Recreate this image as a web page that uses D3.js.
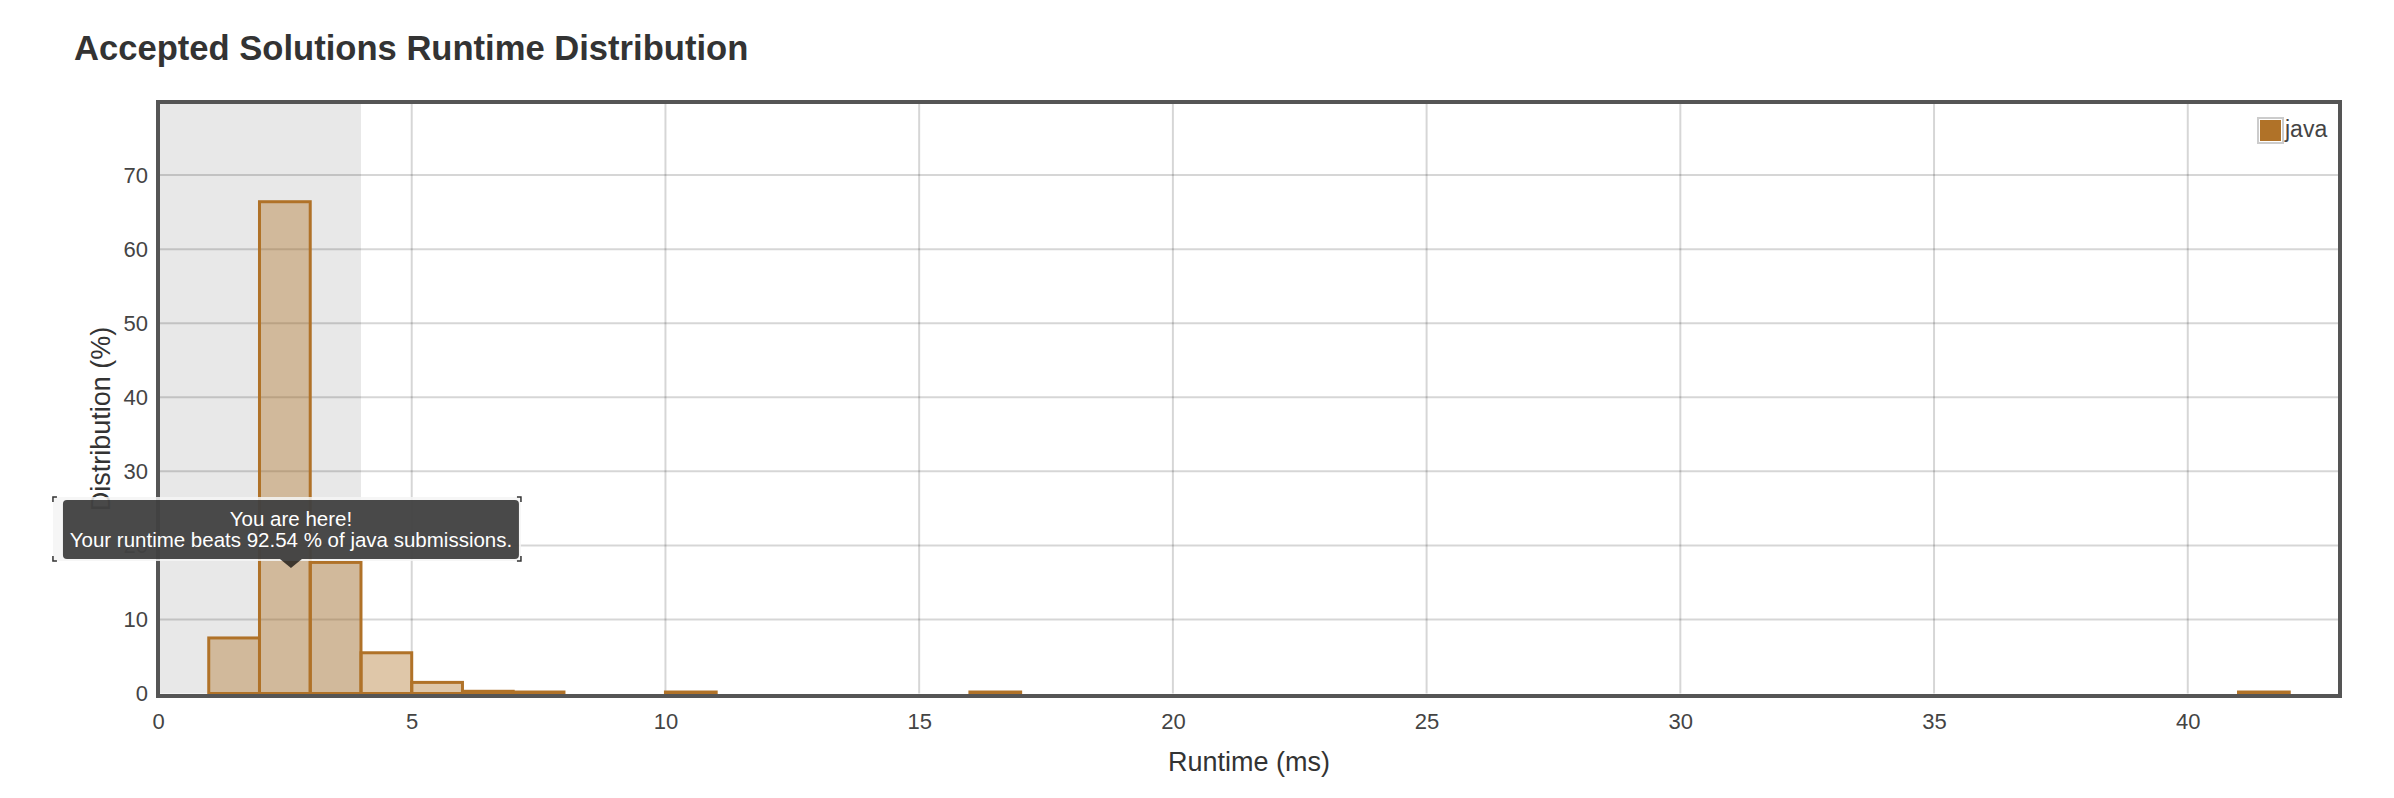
<!DOCTYPE html>
<html>
<head>
<meta charset="utf-8">
<script src="https://cdn.jsdelivr.net/npm/d3@7"></script>
<style>
  html, body { margin: 0; padding: 0; background: #fff; }
  svg { display: block; font-family: "Liberation Sans", Arial, Helvetica, sans-serif; }
</style>
</head>
<body>
<svg id="chart" width="2394" height="798"></svg>
<script>
// ---- data ----
const chartTitle = "Accepted Solutions Runtime Distribution";
const seriesName = "java";
const binStarts = [1, 2, 3, 4, 5, 6, 7, 10, 16, 41];          // runtime bins (ms), width 1
const binValues = [7.5, 66.4, 17.7, 5.5, 1.5, 0.3, 0.2, 0.2, 0.2, 0.2]; // distribution (%)
const binWidth = 1;
const xTicks = [0, 5, 10, 15, 20, 25, 30, 35, 40];
const yTicks = [0, 10, 20, 30, 40, 50, 60, 70];
const xDomain = [0, 43];
const yDomain = [0, 80];
const highlightRange = [0, 4];
const yourRuntime = 2.62;
const tooltipLines = ["You are here!", "Your runtime beats 92.54 % of java submissions."];
const xLabel = "Runtime (ms)";
const yLabel = "Distribution (%)";

(function () {
// ---- layout ----
const svg = d3.select("#chart");
const pL = 158, pR = 2340, pT = 101, pB = 693.5;
const x = d3.scaleLinear().domain(xDomain).range([pL, pR]);
const y = d3.scaleLinear().domain(yDomain).range([pB, pT]);
const barColor = "#b07228";

// title
svg.append("text")
  .attr("x", 74).attr("y", 60)
  .attr("font-size", 34.6).attr("font-weight", "bold").attr("fill", "#333")
  .text(chartTitle);

// highlight band
svg.append("rect")
  .attr("x", x(highlightRange[0])).attr("y", pT)
  .attr("width", x(highlightRange[1]) - x(highlightRange[0]))
  .attr("height", pB - pT)
  .attr("fill", "#e8e8e8");

// grid lines
const gridColor = "rgba(0,0,0,0.16)";
svg.append("g").selectAll("line").data(xTicks.filter(d => d > xDomain[0]))
  .join("line")
  .attr("x1", d => x(d)).attr("x2", d => x(d))
  .attr("y1", pT).attr("y2", pB)
  .attr("stroke", gridColor).attr("stroke-width", 2);
svg.append("g").selectAll("line").data(yTicks.filter(d => d > yDomain[0]))
  .join("line")
  .attr("x1", pL).attr("x2", pR)
  .attr("y1", d => y(d)).attr("y2", d => y(d))
  .attr("stroke", gridColor).attr("stroke-width", 2);

// bars
const bins = binStarts.map((s, i) => ({ x0: s, x1: s + binWidth, v: binValues[i] }));
svg.append("g").selectAll("rect").data(bins)
  .join("rect")
  .attr("x", d => x(d.x0)).attr("width", d => x(d.x1) - x(d.x0))
  .attr("y", d => y(d.v)).attr("height", d => y(0) - y(d.v))
  .attr("fill", "rgba(176,114,40,0.4)")
  .attr("stroke", barColor).attr("stroke-width", 3);

// frame
svg.append("rect")
  .attr("x", pL).attr("y", pT + 1)
  .attr("width", pR - pL).attr("height", pB - pT + 1.5)
  .attr("fill", "none").attr("stroke", "#555").attr("stroke-width", 4);

// x axis ticks
const xAxis = d3.axisBottom(x).tickValues(xTicks).tickSize(0).tickPadding(0);
const gx = svg.append("g").attr("transform", `translate(0,${pB})`).call(xAxis);
gx.select(".domain").remove();
gx.selectAll("text").attr("font-size", 22).attr("fill", "#444")
  .attr("dy", null).attr("y", 35);
gx.attr("font-family", null).attr("font-size", null);

// y axis ticks
const yAxis = d3.axisLeft(y).tickValues(yTicks).tickSize(0).tickPadding(0);
const gy = svg.append("g").attr("transform", `translate(${pL},0)`).call(yAxis);
gy.select(".domain").remove();
gy.selectAll("text").attr("font-size", 22).attr("fill", "#444")
  .attr("dy", "0.32em").attr("x", -10);
gy.attr("font-family", null).attr("font-size", null);

// axis titles
svg.append("text")
  .attr("x", (pL + pR) / 2).attr("y", 771)
  .attr("text-anchor", "middle").attr("font-size", 27).attr("fill", "#333")
  .text(xLabel);
svg.append("text")
  .attr("transform", `translate(110,419) rotate(-90)`)
  .attr("text-anchor", "middle").attr("font-size", 27).attr("fill", "#333")
  .text(yLabel);

// legend
const lg = svg.append("g");
lg.append("rect").attr("x", 2258).attr("y", 118).attr("width", 25).attr("height", 25)
  .attr("fill", "#fff").attr("stroke", "#ccc").attr("stroke-width", 2);
lg.append("rect").attr("x", 2260).attr("y", 120).attr("width", 21).attr("height", 21)
  .attr("fill", barColor);
lg.append("text").attr("x", 2285).attr("y", 137)
  .attr("font-size", 23).attr("fill", "#444").text(seriesName);

// tooltip
const tx = x(yourRuntime);
const tipW = 456, tipH = 59, tipBottom = 559;
const tg = svg.append("g");
const ox0 = tx - tipW / 2 - 10, ox1 = tx + tipW / 2 + 2, oy0 = tipBottom - tipH - 3, oy1 = tipBottom + 2;
tg.append("rect")
  .attr("x", ox0).attr("y", oy0)
  .attr("width", ox1 - ox0).attr("height", oy1 - oy0).attr("rx", 3)
  .attr("fill", "rgba(244,244,244,0.85)");
[[ox0, oy0, 1, 1], [ox1, oy0, -1, 1], [ox0, oy1, 1, -1], [ox1, oy1, -1, -1]].forEach(([cx, cy, sx, sy]) => {
  tg.append("path")
    .attr("d", `M${cx},${cy + sy * 5}L${cx},${cy}L${cx + sx * 4},${cy}`)
    .attr("fill", "none").attr("stroke", "#333").attr("stroke-width", 1.5);
});
tg.append("rect")
  .attr("x", tx - tipW / 2).attr("y", tipBottom - tipH)
  .attr("width", tipW).attr("height", tipH).attr("rx", 4)
  .attr("fill", "rgba(0,0,0,0.7)");
tg.append("path")
  .attr("d", `M${tx - 11},${tipBottom}L${tx},${tipBottom + 9}L${tx + 11},${tipBottom}Z`)
  .attr("fill", "rgba(0,0,0,0.7)");
tg.selectAll("text.tip").data(tooltipLines).join("text")
  .attr("class", "tip")
  .attr("x", tx).attr("y", (d, i) => 526 + i * 21)
  .attr("text-anchor", "middle").attr("font-size", 20.5).attr("fill", "#fff")
  .text(d => d);
})();
</script>
</body>
</html>
